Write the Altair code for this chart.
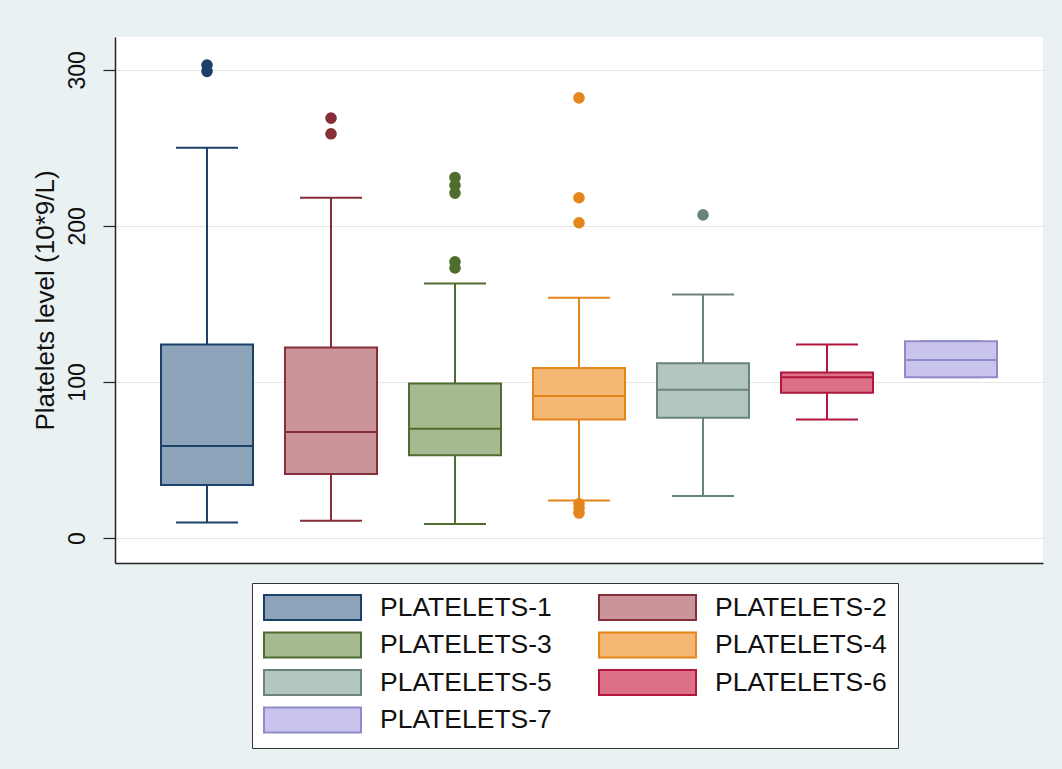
import altair as alt
import pandas as pd

# Box summaries per platelet group (10*9/L)
groups = [f"PLATELETS-{i}" for i in range(1, 8)]
lower_whisker = [10, 11, 9, 24, 27, 76, 103]
q1 = [34, 41, 53, 76, 77, 93, 103]
median = [59, 68, 70, 91, 95, 103, 114]
q3 = [124, 122, 99, 109, 112, 106, 126]
upper_whisker = [250, 218, 163, 154, 156, 124, 126]

# Points beyond the whiskers
outlier_groups = (["PLATELETS-1"] * 2 + ["PLATELETS-2"] * 2 + ["PLATELETS-3"] * 5
                  + ["PLATELETS-4"] * 6 + ["PLATELETS-5"])
outlier_values = [303, 299, 269, 259, 231, 226, 221, 177, 173,
                  282, 218, 202, 22, 19, 16, 207]

fill_colors = ["#8ca3b9", "#c9959a", "#a7b990", "#f4b774", "#b2c5c0", "#dc7088", "#c8c4ee"]
line_colors = ["#1c4068", "#862f38", "#4f6d2e", "#e5861c", "#6a837d", "#b3173f", "#8f8bc8"]

boxes = pd.DataFrame({
    "group": groups,
    "lower": lower_whisker,
    "q1": q1,
    "median": median,
    "q3": q3,
    "upper": upper_whisker,
})
outliers = pd.DataFrame({"group": outlier_groups, "value": outlier_values})

FONT = "Liberation Sans"

x_enc = alt.X(
    "group:N",
    scale=alt.Scale(domain=groups, paddingInner=0.258, paddingOuter=0.371),
    axis=alt.Axis(labels=False, ticks=False, title=None, grid=False,
                  domainColor="#222222", domainWidth=1.5),
)
y_scale = alt.Scale(domain=[-16, 321], nice=False, zero=False)
y_axis = alt.Axis(
    values=[0, 100, 200, 300],
    title="Platelets level (10*9/L)",
    titleFont=FONT, titleFontSize=26, titleFontWeight="normal", titleColor="#111111",
    titlePadding=8,
    labelFont=FONT, labelFontSize=23, labelColor="#111111", labelAngle=-90,
    labelPadding=14,
    tickSize=12, tickColor="#222222", tickWidth=1.2,
    domainColor="#222222", domainWidth=1.5,
    grid=True, gridColor="#e6e6e6", gridWidth=1,
)

# Box fill and outline scales carry the legend; the line-colour scale used by
# whiskers, caps, medians and outliers takes its domain from the data.
fill_scale = alt.Scale(domain=groups, range=fill_colors)
stroke_scale = alt.Scale(domain=groups, range=line_colors)
line_scale = alt.Scale(range=line_colors)
line_color = alt.Color("group:N", scale=line_scale, legend=None)

# Wide legend swatches: a 25px symbol size with a path 3.88x wider than tall
legend_spec = dict(
    title=None, orient="none", legendX=137, legendY=546,
    direction="horizontal", columns=2, columnPadding=43, rowPadding=4.5,
    symbolType="M-3.88,-1H3.88V1H-3.88Z", symbolSize=625,
    symbolOffset=36, symbolStrokeWidth=2, labelOffset=54, labelLimit=320,
    labelFont=FONT, labelFontSize=26.5, labelColor="#111111",
    padding=11, strokeColor="#333333", fillColor="white",
)

base = alt.Chart(boxes)

whisker_hi = base.mark_rule(strokeWidth=2).encode(
    x=x_enc, y=alt.Y("q3:Q", scale=y_scale, axis=y_axis), y2="upper:Q", color=line_color
)
whisker_lo = base.mark_rule(strokeWidth=2).encode(
    x=x_enc, y=alt.Y("lower:Q", scale=y_scale), y2="q1:Q", color=line_color
)
cap_hi = base.mark_tick(size=62, thickness=2, opacity=1).encode(
    x=x_enc, y=alt.Y("upper:Q", scale=y_scale), color=line_color
)
cap_lo = base.mark_tick(size=62, thickness=2, opacity=1).encode(
    x=x_enc, y=alt.Y("lower:Q", scale=y_scale), color=line_color
)
box = base.mark_bar(strokeWidth=2).encode(
    x=x_enc,
    y=alt.Y("q1:Q", scale=y_scale),
    y2="q3:Q",
    fill=alt.Fill("group:N", scale=fill_scale, legend=alt.Legend(**legend_spec)),
    stroke=alt.Stroke("group:N", scale=stroke_scale, legend=alt.Legend(**legend_spec)),
)
med = base.mark_tick(size=92, thickness=2, opacity=1).encode(
    x=x_enc, y=alt.Y("median:Q", scale=y_scale), color=line_color
)
points = alt.Chart(outliers).mark_circle(size=135, opacity=1).encode(
    x=x_enc, y=alt.Y("value:Q", scale=y_scale), color=line_color
)

chart = (
    alt.layer(whisker_hi, whisker_lo, cap_hi, cap_lo, box, med, points)
    .properties(
        width=928, height=526, autosize="none",
        padding={"left": 115, "top": 37, "right": 19, "bottom": 206},
        background="#e9f1f3",
    )
    .configure_view(fill="white", stroke=None)
)

chart.save("out.html", embed_options={"renderer": "svg", "actions": False})
